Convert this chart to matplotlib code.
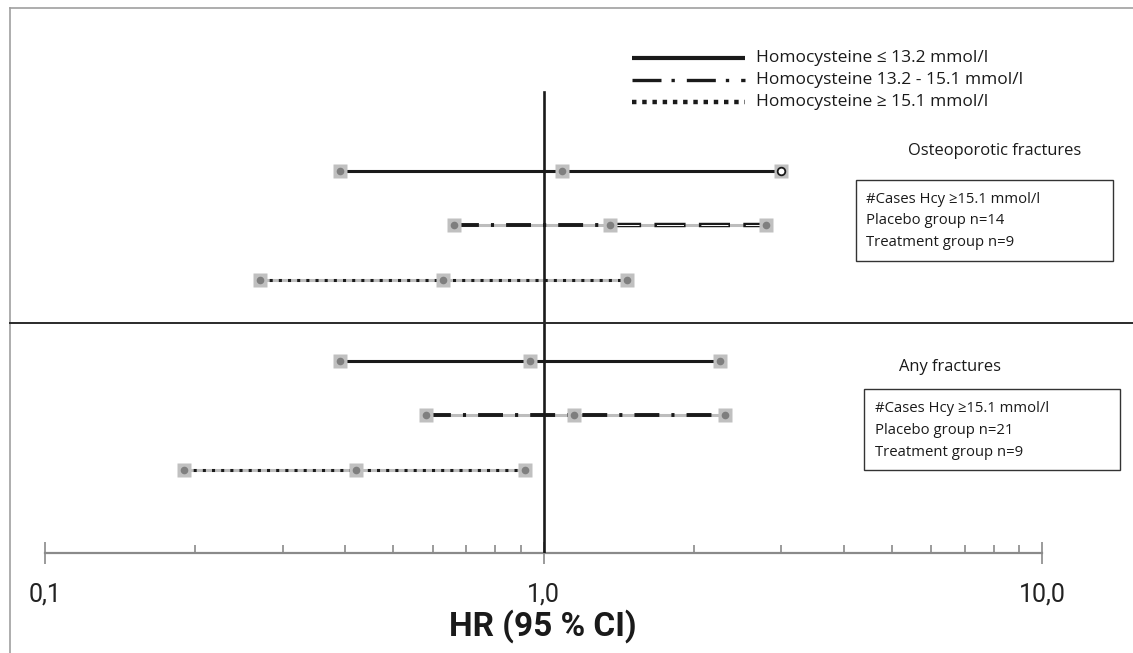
import numpy as np
import matplotlib.pyplot as plt
from matplotlib.lines import Line2D
from matplotlib.patches import Rectangle

# hazard ratios and 95% CI
groups = ['Osteoporotic fractures', 'Any fractures']
series = ['Homocysteine \u2264 13.2 mmol/l',
          'Homocysteine 13.2 - 15.1 mmol/l',
          'Homocysteine \u2265 15.1 mmol/l']
hr_osteo = [1.09, 1.36, 0.63]
lo_osteo = [0.39, 0.66, 0.27]
hi_osteo = [2.99, 2.79, 1.47]
hr_any = [0.94, 1.15, 0.42]
lo_any = [0.39, 0.58, 0.19]
hi_any = [2.26, 2.31, 0.92]
box_osteo = ['#Cases Hcy \u226515.1 mmol/l', 'Placebo group n=14', 'Treatment group n=9']
box_any = ['#Cases Hcy \u226515.1 mmol/l', 'Placebo group n=21', 'Treatment group n=9']
tick_vals = [0.1, 1.0, 10.0]
tick_labels = ['0,1', '1,0', '10,0']

W, H = 1133, 653
plt.rcParams['font.family'] = ['Open Sans', 'DejaVu Sans']
fig = plt.figure(figsize=(W / 100, H / 100), dpi=100)

def fx(x):
    return x / W

def fy(y):
    return 1 - y / H

# axes placed so that 0.1 sits at x=45 px and 10 at x=1042 px
ax = fig.add_axes([fx(45), fy(553), fx(1042) - fx(45), fy(8) - fy(553)])
ax.set_xscale('log')
ax.set_xlim(0.1, 10)
row_h = 54.3
ax.set_ylim((553 - 171) / row_h, (8 - 171) / row_h)
ax.patch.set_alpha(0)

for s in ['top', 'left', 'right']:
    ax.spines[s].set_visible(False)
ax.spines['bottom'].set_color('#8a8a8a')
ax.spines['bottom'].set_linewidth(1.6)
ax.set_yticks([])
ax.set_xticks(tick_vals)
ax.set_xticklabels(tick_labels, fontsize=18, family=['Roboto', 'DejaVu Sans'])
ax.set_xticks([v * k for v in [0.1, 1.0] for k in range(2, 10)], minor=True)
ax.tick_params(axis='x', which='major', direction='inout', length=16, width=1.2,
               color='#8a8a8a', pad=13, labelcolor='#222222')
ax.tick_params(axis='x', which='minor', direction='in', length=6, width=1.2,
               color='#8a8a8a')

lw = 2.2
styles = ['-', (0, (6.4, 3.1, 0.8, 3.1)), (0, (1, 2))]
ypos = [[0, 1, 2], [3.5, 4.5, 5.5]]
data = [(hr_osteo, lo_osteo, hi_osteo), (hr_any, lo_any, hi_any)]

# reference line at HR = 1
ax.plot([1, 1], [(92 - 171) / row_h, (553 - 171) / row_h], color='#1a1a1a', lw=1.9, zorder=3)

for g in range(2):
    hr, lo, hi = data[g]
    for i in range(3):
        y = ypos[g][i]
        ax.plot([lo[i], hi[i]], [y, y], color='#bdbdbd', lw=lw, zorder=2, solid_capstyle='butt')
        if g == 0 and i == 1:
            # left half dash-dot, right half hollow dashes
            ax.plot([lo[i], hr[i]], [y, y], color='#1a1a1a', lw=lw + 0.6, ls=styles[i], zorder=4)
            ax.plot([hr[i], hi[i]], [y, y], color='#1a1a1a', lw=3.2, ls=(0, (7, 3)), zorder=4)
            ax.plot([hr[i], hi[i]], [y, y], color='white', lw=0.7, ls=(43.6, (27.8, 17.9)),
                    dash_capstyle='butt', zorder=4)
        else:
            ax.plot([lo[i], hi[i]], [y, y], color='#1a1a1a', lw=lw + (0.6 if i == 1 else 0),
                    ls=styles[i], zorder=4)
        ax.plot([lo[i], hr[i], hi[i]], [y, y, y], 's', ms=10, color='#c0c0c0', mec='none', zorder=5)
        if g == 0 and i == 0:
            ax.plot([lo[i], hr[i]], [y, y], 'o', ms=5.5, color='#7f7f7f', mec='none', zorder=6)
            ax.plot([hi[i]], [y], 'o', ms=5.5, mfc='white', mec='#1a1a1a', mew=1.3, zorder=6)
        else:
            ax.plot([lo[i], hr[i], hi[i]], [y, y, y], 'o', ms=5.5, color='#7f7f7f', mec='none', zorder=6)

# outer frame and divider
fig.add_artist(Line2D([fx(10), fx(1133)], [fy(8), fy(8)], color='#a0a0a0', lw=1.2))
fig.add_artist(Line2D([fx(10), fx(10)], [fy(8), fy(653)], color='#a0a0a0', lw=1.2))
fig.add_artist(Line2D([fx(10), fx(1133)], [fy(323), fy(323)], color='#2a2a2a', lw=1.4))

# legend drawn by hand
leg_y = [58, 80, 102]
leg_ls = ['-', (0, (8.7, 3, 1, 3.6)), (0, (1, 1.3))]
leg_lw = [3.0, 2.4, 3.2]
for i in range(3):
    fig.add_artist(Line2D([fx(632), fx(745)], [fy(leg_y[i]), fy(leg_y[i])], color='#1a1a1a',
                          lw=leg_lw[i], ls=leg_ls[i], dash_capstyle='butt', solid_capstyle='butt'))
    fig.text(fx(756), fy(leg_y[i]), series[i], fontsize=12.5, va='center', ha='left', color='#1a1a1a')

# group labels
fig.text(fx(995), fy(151), groups[0], fontsize=11.9, ha='center', va='center', color='#1a1a1a')
fig.text(fx(950), fy(367), groups[1], fontsize=11.9, ha='center', va='center', color='#1a1a1a')

# case count boxes
boxes = [(856, 180, 1113, 261, 866, box_osteo), (864, 389, 1120, 470, 875, box_any)]
for x0, y0, x1, y1, tx, lines in boxes:
    fig.add_artist(Rectangle((fx(x0), fy(y1)), fx(x1) - fx(x0), fy(y0) - fy(y1), fill=False,
                             ec='#333333', lw=1.0, transform=fig.transFigure))
    for k in range(3):
        fig.text(fx(tx), fy(y0 + 19 + 22 * k), lines[k], fontsize=10.7, va='center', ha='left',
                 color='#1a1a1a')

fig.text(fx(543), fy(626), 'HR (95 % CI)', fontsize=24, fontweight='bold', ha='center', va='center',
         family=['Roboto', 'DejaVu Sans'], color='#1a1a1a')

plt.savefig('out.png', dpi=100)
